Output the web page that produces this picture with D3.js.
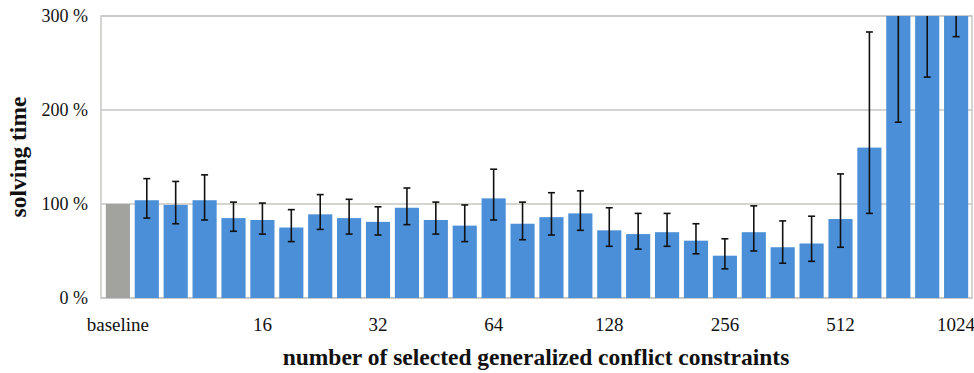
<!DOCTYPE html>
<html>
<head>
<meta charset="utf-8">
<script src="https://cdn.jsdelivr.net/npm/d3@7"></script>
<style>
  body { margin: 0; background: #fff; }
  svg text { font-family: "Liberation Serif", "DejaVu Serif", serif; fill: #111; }
</style>
</head>
<body>
<div id="chart"></div>
<script>
// categories: baseline + 29 settings, only every 4th one gets a label
const categories = d3.range(30).map(i => i === 0 ? "baseline" : "c" + i);
const tickLabels = {0: "baseline", 5: "16", 9: "32", 13: "64", 17: "128", 21: "256", 25: "512", 29: "1024"};

// solving time in % of baseline
const values = [100, 104, 99, 104, 85, 83, 75, 89, 85, 81, 96, 83, 77, 106, 79, 86, 90, 72, 68, 70,
                61, 45, 70, 54, 58, 84, 160, 340, 330, 320];
// error bar ends
const errLow = [null, 85, 79, 83, 71, 68, 60, 73, 68, 67, 78, 68, 60, 83, 62, 67, 72, 55, 52, 55,
                47, 31, 50, 37, 39, 54, 90, 187, 235, 278];
const errHigh = [null, 127, 124, 131, 102, 101, 94, 110, 105, 97, 117, 102, 99, 137, 102, 112, 114, 96, 90, 90,
                 79, 63, 98, 82, 87, 132, 283, 480, 420, 360];
const yTicks = [0, 100, 200, 300];

const width = 974, height = 373;
const margin = {left: 101, top: 16, right: 2, bottom: 75};
const plotRight = width - margin.right, plotBottom = height - margin.bottom;

const svg = d3.select("#chart").append("svg")
    .attr("width", width)
    .attr("height", height);

const x = d3.scaleBand()
    .domain(categories)
    .range([margin.left + 2.5, plotRight - 1.5])
    .paddingInner(0.165)
    .paddingOuter(0.08);

const y = d3.scaleLinear()
    .domain([0, 300])
    .range([plotBottom, margin.top]);

svg.append("defs").append("clipPath").attr("id", "plotclip")
  .append("rect")
    .attr("x", margin.left).attr("y", margin.top)
    .attr("width", plotRight - margin.left).attr("height", plotBottom - margin.top);

// gridlines
svg.append("g")
  .selectAll("line")
  .data(yTicks)
  .join("line")
    .attr("x1", margin.left).attr("x2", plotRight)
    .attr("y1", d => y(d)).attr("y2", d => y(d))
    .style("stroke", "#c6c6c2")
    .style("stroke-width", 1.5);

// frame
svg.append("rect")
    .attr("x", margin.left).attr("y", margin.top)
    .attr("width", plotRight - margin.left).attr("height", plotBottom - margin.top)
    .style("fill", "none")
    .style("stroke", "#c6c6c2")
    .style("stroke-width", 1.5);

const plot = svg.append("g").attr("clip-path", "url(#plotclip)");

plot.selectAll(".bar")
  .data(values)
  .join("rect")
    .attr("class", "bar")
    .attr("x", (d, i) => x(categories[i]))
    .attr("width", x.bandwidth())
    .attr("y", d => y(d))
    .attr("height", d => y(0) - y(d))
    .style("fill", (d, i) => i === 0 ? "#a2a39e" : "#4a8fd7");

// error bars
const errData = values.map((v, i) => ({i: i, lo: errLow[i], hi: errHigh[i]})).filter(d => d.lo != null);
const eb = plot.selectAll(".err")
  .data(errData)
  .join("g")
    .attr("class", "err")
    .attr("transform", d => "translate(" + (x(categories[d.i]) + x.bandwidth() / 2) + ",0)");

eb.append("line")
    .attr("y1", d => y(d.lo)).attr("y2", d => y(d.hi))
    .style("stroke", "#111").style("stroke-width", 1.6);
eb.selectAll(".cap")
  .data(d => [d.lo, d.hi])
  .join("line")
    .attr("class", "cap")
    .attr("x1", -3.5).attr("x2", 3.5)
    .attr("y1", d => y(d)).attr("y2", d => y(d))
    .style("stroke", "#111").style("stroke-width", 1.6);

// y tick labels
svg.append("g")
  .selectAll("text")
  .data(yTicks)
  .join("text")
    .attr("x", 88)
    .attr("y", d => y(d))
    .attr("dy", "0.35em")
    .attr("text-anchor", "end")
    .style("font-size", "18px")
    .text(d => d + " %");

// x tick labels
svg.append("g")
  .selectAll("text")
  .data(Object.keys(tickLabels))
  .join("text")
    .attr("x", k => x(categories[k]) + x.bandwidth() / 2)
    .attr("y", 331)
    .attr("text-anchor", "middle")
    .style("font-size", "19px")
    .text(k => tickLabels[k]);

// axis titles
svg.append("text")
    .attr("x", 536)
    .attr("y", 365)
    .attr("text-anchor", "middle")
    .style("font-size", "23.5px")
    .style("font-weight", "bold")
    .text("number of selected generalized conflict constraints");

svg.append("text")
    .attr("transform", "translate(26," + ((margin.top + plotBottom) / 2) + ") rotate(-90)")
    .attr("text-anchor", "middle")
    .style("font-size", "23.5px")
    .style("font-weight", "bold")
    .text("solving time");
</script>
</body>
</html>
